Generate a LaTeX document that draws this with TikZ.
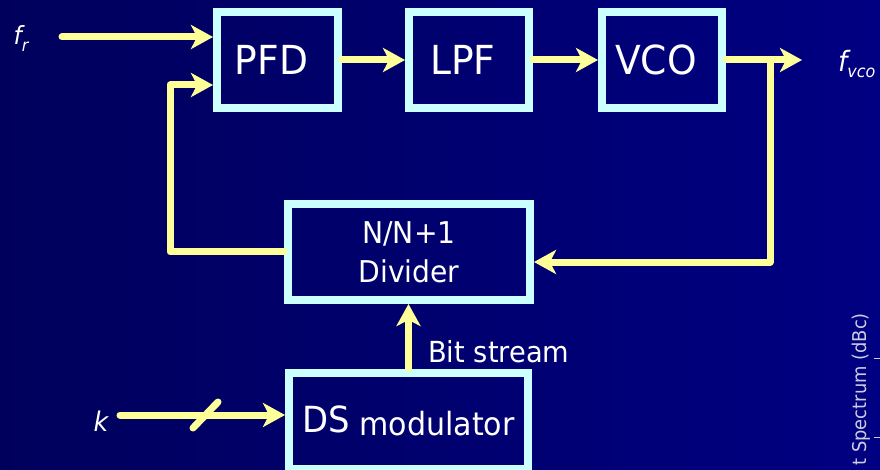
\documentclass[tikz,border=0pt]{standalone}
\usepackage{fontspec}
\setmainfont{DejaVu Sans}[FakeStretch=0.94]
\usetikzlibrary{arrows.meta}
\definecolor{bgL}{RGB}{0,0,92}
\definecolor{bgR}{RGB}{0,0,130}
\definecolor{boxc}{RGB}{204,255,255}
\definecolor{wirec}{RGB}{255,255,153}
\definecolor{axisc}{RGB}{205,205,225}
\begin{document}
\begin{tikzpicture}[x=1pt,y=-1pt,
  box/.style={draw=boxc,line width=8pt,inner sep=0pt,text=white,font=\fontsize{40}{40}\selectfont},
  wire/.style={draw=wirec,line width=7pt,line cap=round,line join=round},
  arr/.style={wire,-{Stealth[length=22pt,width=24pt,inset=6pt]}},
  lbl/.style={text=white,inner sep=0pt}]
\useasboundingbox (0,0) rectangle (880,470);
\clip (0,0) rectangle (880,470);
\shade[left color=bgL,right color=bgR] (0,0) rectangle (880,470);

% blocks
\node[box,minimum width=121pt,minimum height=96pt] (PFD) at (277.5,60) {\hspace*{-12pt}PFD};
\node[box,minimum width=120pt,minimum height=96pt] (LPF) at (469,60) {\hspace*{-12pt}LPF};
\node[box,minimum width=120pt,minimum height=96pt] (VCO) at (662,60) {\hspace*{-12pt}VCO};
\node[box,minimum width=242pt,minimum height=96pt,align=center,font=\fontsize{30}{39}\selectfont] (Div) at (409,252) {N/N+1\\Divider};
\node[box,minimum width=239pt,minimum height=96pt,font=\fontsize{32}{32}\selectfont] (DS) at (408.5,420.5) {\raisebox{3pt}{\fontsize{36}{36}\selectfont DS} modulator};

% labels
\node[lbl,font=\fontsize{25}{25}\selectfont\itshape] (fr) at (21,39) {f\raisebox{-7pt}{\fontsize{17}{17}\selectfont r}};
\node[lbl,anchor=west,font=\fontsize{28}{28}\selectfont\itshape] (fvco) at (838,64) {f\raisebox{-6pt}{\fontsize{17}{17}\selectfont vco}};
\node[lbl,font=\fontsize{27}{27}\selectfont\itshape] (k) at (101,421) {k};
\node[lbl,anchor=west,font=\fontsize{29}{29}\selectfont] (bits) at (428,352) {Bit stream};
\node[text=axisc,rotate=90,anchor=east,inner sep=0pt,font=\fontsize{19}{19}\selectfont] (spec) at (861,313) {t Spectrum (dBc)};
\coordinate (t1a) at (874,358); \coordinate (t1b) at (880,358);
\coordinate (t2a) at (874,437); \coordinate (t2b) at (880,437);
\draw[axisc,line width=1pt] (t1a) -- (t1b) (t2a) -- (t2b);

% coordinates
\coordinate (frs) at (62,37);
\coordinate (ks) at (120,415);
\coordinate (out) at (802,60);
\coordinate (L) at (170,0);
\coordinate (R) at (770,0);
\coordinate (s1) at (193,428);
\coordinate (s2) at (218,402);
\coordinate (frin) at ([yshift=23pt]PFD.west);
\coordinate (fbin) at ([yshift=-25pt]PFD.west);
\coordinate (divin) at ([yshift=-10pt]Div.east);

% connectors
\draw[arr] (frs) -- (frin);
\draw[arr] (PFD) -- (LPF);
\draw[arr] (LPF) -- (VCO);
\draw[arr] (VCO) -- (out);
\draw[arr] (VCO.east -| R) |- (divin);
\draw[arr] (Div.west) -- (Div.west -| L) |- (fbin);
\draw[arr] (DS.north) -- (DS.north |- Div.south);
\draw[arr] (ks) -- (ks -| DS.west);
\draw[wire] (s1) -- (s2);
\end{tikzpicture}
\end{document}
